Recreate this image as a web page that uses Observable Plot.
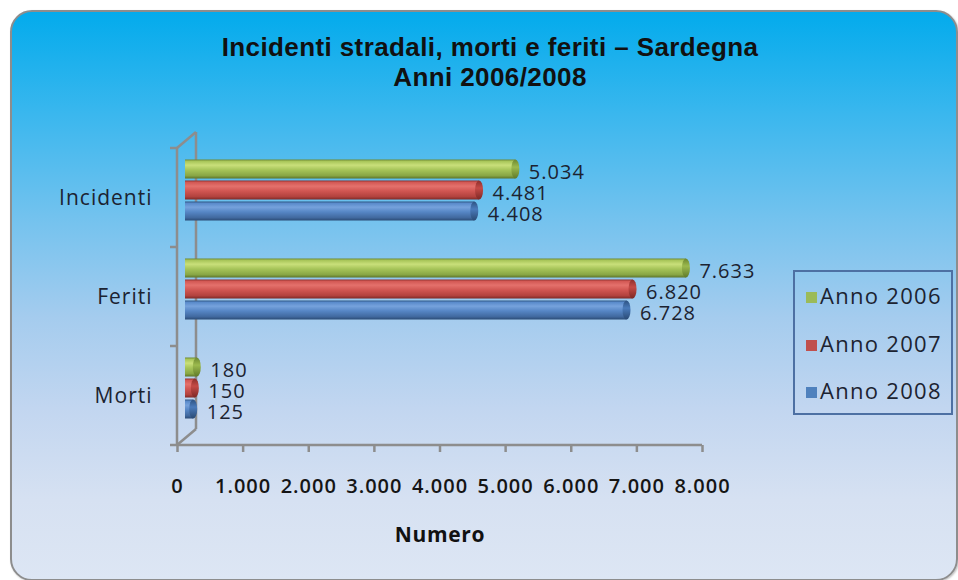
<!DOCTYPE html>
<html>
<head>
<meta charset="utf-8">
<script src="https://cdn.jsdelivr.net/npm/d3@7"></script>
<script src="https://cdn.jsdelivr.net/npm/@observablehq/plot@0.6"></script>
<style>
  html, body { margin: 0; padding: 0; background: #ffffff; }
  #wrap { position: relative; width: 958px; height: 580px; overflow: hidden; background: #ffffff; }
  #panel {
    position: absolute; left: 10px; top: 10px; width: 944px; height: 567px;
    border: 2px solid #8d8d8d; border-radius: 22px;
    background: linear-gradient(to bottom, #03abec 0%, #3ab7ee 18%, #72c2ee 36%, #a5ccee 54%, #c2d6f0 70%, #d6e1f2 86%, #dde6f4 100%);
    box-shadow: 1px 1px 2px rgba(0,0,0,0.25);
  }
  #title {
    position: absolute; left: 0; width: 980px; top: 32px; text-align: center;
    font-family: "Liberation Sans", Arial, sans-serif; font-weight: bold; font-size: 26px;
    letter-spacing: 0.4px; line-height: 30px; color: #111111;
  }
  #xlabel {
    position: absolute; left: 340px; width: 200px; top: 520px; text-align: center;
    font-family: "Open Sans", sans-serif; font-weight: bold; font-size: 21px; color: #111111;
    letter-spacing: 0.7px;
  }
  #legend {
    position: absolute; left: 793px; top: 270px; width: 160px; height: 145px;
    border: 2px solid #4d70a3; box-sizing: border-box;
    font-family: "Open Sans", sans-serif; font-size: 22px; color: #1c2331;
  }
  .li { position: absolute; left: 11px; height: 28px; line-height: 28px; white-space: nowrap; letter-spacing: 1.3px; }
  .sw { display: inline-block; width: 11px; height: 11px; margin-right: 3px; vertical-align: 1px; }
  #chart { position: absolute; left: 0; top: 0; }
</style>
</head>
<body>
<div id="wrap">
  <div id="panel"></div>
  <div id="title">Incidenti stradali, morti e feriti – Sardegna<br>Anni 2006/2008</div>
  <div id="chart"></div>
  <div id="xlabel">Numero</div>
  <div id="legend"></div>
</div>
<script>
// ---- data ----
const categories = ["Incidenti", "Feriti", "Morti"];
const years = ["Anno 2006", "Anno 2007", "Anno 2008"];
const values2006 = [5034, 7633, 180];
const values2007 = [4481, 6820, 150];
const values2008 = [4408, 6728, 125];
const xTicks = [0, 1000, 2000, 3000, 4000, 5000, 6000, 7000, 8000];
const yearColors = ["#9bbb59", "#c0504d", "#4f81bd"];

const seriesValues = [values2006, values2007, values2008];
const rows = [];
categories.forEach((c, i) => {
  years.forEach((y, j) => rows.push({category: c, year: y, value: seriesValues[j][i]}));
});

const itLocale = d3.formatLocale({decimal: ",", thousands: ".", grouping: [3], currency: ["€", ""]});
const fmt = itLocale.format(",d");

// cylinder shading stops per year (body / cap)
const bodyStops = [
  [["0%", "#6f8a33"], ["10%", "#a9c65a"], ["30%", "#c9df7a"], ["55%", "#a6c459"], ["85%", "#88a645"], ["100%", "#5d752a"]],
  [["0%", "#93322f"], ["10%", "#d35955"], ["30%", "#e4716c"], ["55%", "#d15652"], ["85%", "#b2423e"], ["100%", "#7e2a27"]],
  [["0%", "#2f5684"], ["10%", "#5a8bcb"], ["30%", "#76a2dc"], ["55%", "#5686c5"], ["85%", "#41699f"], ["100%", "#2b4b75"]]
];
const capStops = [
  [["0%", "#6c8730"], ["40%", "#9cba4e"], ["100%", "#5f7a2a"]],
  [["0%", "#8c2f2c"], ["40%", "#c54a46"], ["100%", "#7d2825"]],
  [["0%", "#2d5281"], ["40%", "#4a7bbb"], ["100%", "#2a4a74"]]
];

const W = 958, H = 580;
const M = {left: 177, right: 256, top: 148, bottom: 135};
const DX = 8, DY = -7.5;

const barMarks = [];
years.forEach((yr, j) => {
  const sub = rows.filter(d => d.year === yr);
  barMarks.push(Plot.barX(sub, {x1: 0, x2: "value", y: "year", fy: "category", fill: `url(#body${j})`, dx: DX, dy: DY}));
  barMarks.push(Plot.barX(sub, {x1: "value", x2: "value", y: "year", fy: "category", insetLeft: -4, insetRight: -4, rx: 4, ry: 20, fill: `url(#cap${j})`, dx: DX, dy: DY}));
});

const chart = Plot.plot({
  width: W,
  height: H,
  marginLeft: M.left,
  marginRight: M.right,
  marginTop: M.top,
  marginBottom: M.bottom,
  x: {domain: [0, 8000]},
  y: {domain: years, paddingInner: 0.08, paddingOuter: 0.82, axis: null},
  fy: {domain: categories, padding: 0},
  style: {background: "transparent", fontFamily: "'Open Sans', sans-serif", overflow: "visible", letterSpacing: "1px"},
  marks: [
    Plot.axisFy({anchor: "left", tickSize: 0, tickPadding: 25, fontSize: 21, label: null, color: "#1c2331"}),
    Plot.axisX({anchor: "bottom", ticks: xTicks, tickFormat: fmt, tickSize: 7, tickPadding: 26, fontSize: 20, fontWeight: 600, label: null, color: "#151515", stroke: "#8d8d8d", strokeWidth: 2.5}),
    ...barMarks,
    Plot.text(rows, {x: "value", y: "year", fy: "category", text: d => fmt(d.value), textAnchor: "start", dx: 21, dy: -4.5, fontSize: 20, fill: "#1c2331"})
  ]
});

const svg = d3.select(chart);

// gradient definitions for the cylinder shading
const defs = svg.insert("defs", ":first-child");
function addGrad(id, stops) {
  const lg = defs.append("linearGradient").attr("id", id).attr("x1", 0).attr("y1", 0).attr("x2", 0).attr("y2", 1);
  stops.forEach(([o, c]) => lg.append("stop").attr("offset", o).attr("stop-color", c));
}
bodyStops.forEach((s, j) => addGrad(`body${j}`, s));
capStops.forEach((s, j) => addGrad(`cap${j}`, s));

// decorative 3D walls and axis lines (drawn once, behind the bars), from the plot's scales
const xs = chart.scale("x");
const L = xs.apply(0), R = xs.apply(8000);
const T = M.top, B = H - M.bottom;
let edges = [];
const fyS = chart.scale("fy");
if (fyS && fyS.apply) {
  edges = categories.map(c => fyS.apply(c));
  if (!(edges[0] >= T - 1 && edges[0] <= T + 1)) edges = edges.map((e, k) => T + k * (B - T) / categories.length);
} else {
  edges = categories.map((c, k) => T + k * (B - T) / categories.length);
}
edges.push(B);
const deco = svg.insert("g", "defs + *").attr("stroke", "#8d8d8d").attr("stroke-width", 2.5).attr("fill", "none");
const seg = (x1, y1, x2, y2) => deco.append("line").attr("x1", x1).attr("y1", y1).attr("x2", x2).attr("y2", y2);
const ox = 19, oy = -16;
seg(L, T, L, B);
seg(L + ox, T + oy, L + ox, B + oy);
seg(L, T, L + ox, T + oy);
seg(L, B, L + ox, B + oy);
seg(L, B, R, B);
edges.forEach(e => seg(L - 7, e, L, e));

document.getElementById("chart").appendChild(chart);

// legend
const legend = d3.select("#legend");
years.forEach((yr, j) => {
  const item = legend.append("div").attr("class", "li").style("top", `${9 + j * 47.5}px`);
  item.append("span").attr("class", "sw").style("background", yearColors[j]);
  item.append("span").text(yr);
});
</script>
</body>
</html>
